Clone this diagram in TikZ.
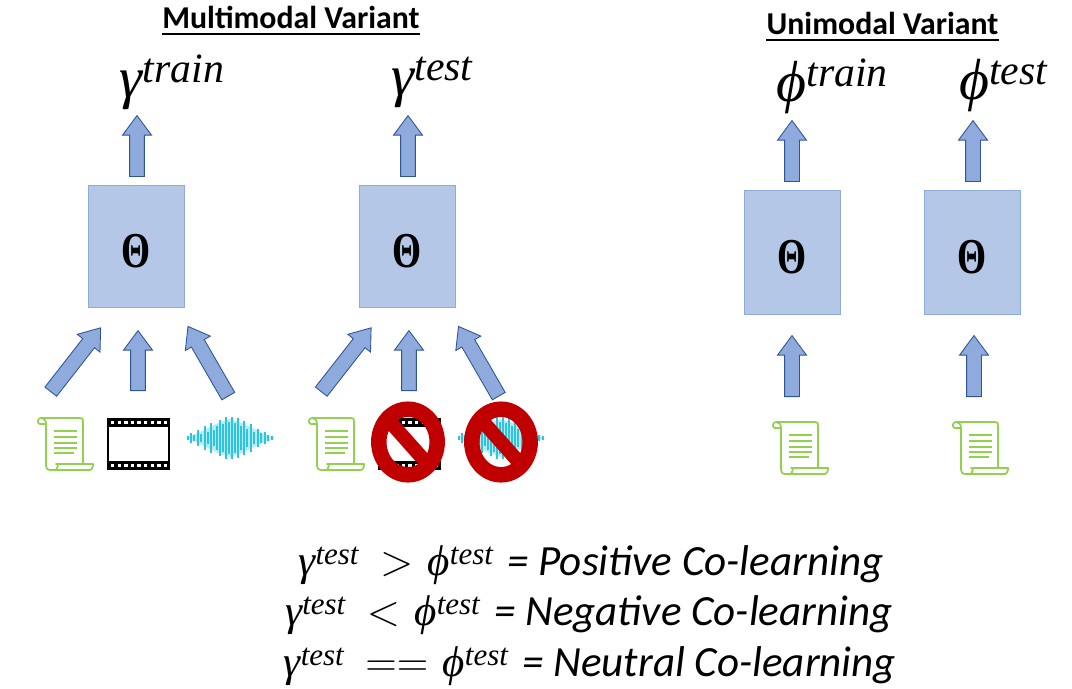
\documentclass[tikz,border=0pt]{standalone}
\usepackage{fontspec}
\setmainfont{Carlito}
\newfontfamily\symfont{Liberation Serif}
\usetikzlibrary{shapes.arrows}
\definecolor{arrowblue}{HTML}{8FAADC}
\definecolor{arrowedge}{HTML}{2F5597}
\definecolor{boxblue}{HTML}{B4C7E7}
\definecolor{scrollgreen}{HTML}{92D050}
\definecolor{wavecyan}{HTML}{2EC4DE}
\definecolor{nored}{HTML}{C00000}
\newcommand{\supsym}[2]{{\symfont\itshape #1\raisebox{0.26em}{\scalebox{0.72}{#2}}}}
\newcommand{\thetasym}{\raisebox{-12.4pt}[0pt][0pt]{\scalebox{0.76}[1.02]{\symfont\bfseries Θ}}}
\tikzset{
  blockarrow/.style={single arrow, draw=arrowedge, fill=arrowblue, line width=0.5pt, inner sep=3.98pt, minimum width=0.56cm, single arrow head extend=0.14cm, single arrow tip angle=73, single arrow head indent=0pt, anchor=tail},
  modelbox/.style={draw=arrowblue, fill=boxblue, line width=0.4pt, minimum width=1.92cm, font=\fontsize{28}{28}\selectfont},
  titletext/.style={font=\bfseries\fontsize{18.1}{20}\selectfont, inner sep=0pt},
  outlabel/.style={font=\fontsize{33}{36}\selectfont, inner sep=0pt},
  rulelabel/.style={font=\itshape\fontsize{24.5}{26}\selectfont, inner sep=0pt},
  scrollicon/.pic={
    \draw[scrollgreen, line width=1pt, line join=round] (9,6) -- (3,6) .. controls (0,6) and (0,0) .. (4,0) -- (43,0) .. controls (46,0) and (46,1) .. (46,4) -- (46,46) -- (19,46) .. controls (22,46) and (21,48) .. (19,52) -- (53,52) .. controls (56,52) and (56,46) .. (56,46) -- (46,46);
    \draw[scrollgreen, line width=1pt, line join=round] (4,0) .. controls (7,0) and (9,2) .. (9,6) -- (9,48) .. controls (9,51) and (11,52) .. (13,52) -- (53,52);
    \foreach \ly/\lx in {13/40,19/40,25/40,30/40,35/37}
      \draw[scrollgreen, line width=1pt] (17,\ly) -- (\lx,\ly);
  },
  filmicon/.pic={
    \fill[black] (0,0) rectangle (63,52);
    \fill[white] (2,9) rectangle (61,43);
    \foreach \hx in {0,...,8} {
      \fill[white] (4+\hx*6.6,2.5) rectangle +(3.4,3.4);
      \fill[white] (4+\hx*6.6,46) rectangle +(3.4,3.4);
    }
  },
  waveicon/.pic={
    \fill[wavecyan!35] (-44,0) -- (-30,-6) -- (-12,-15) -- (0,-19) -- (12,-15) -- (30,-6) -- (44,0) -- (30,6) -- (12,15) -- (0,19) -- (-12,15) -- (-30,6) -- cycle;
    \foreach \wx/\wh in {-42/2,-39/5,-36/3,-32/8,-29/4,-25/12,-22/6,-19/15,-16/8,-13/12,-10/18,-7/14,-4/21,-1/16,2/21,5/15,8/20,11/12,14/17,17/9,21/14,24/6,28/9,31/5,35/6,38/3,42/2}
      \draw[wavecyan, line width=0.75pt] (\wx,-\wh) -- (\wx,\wh);
  },
  nosign/.pic={
    \draw[nored, line width=8.8pt] (0,0) ellipse [x radius=29.2, y radius=32.8];
    \draw[nored, line width=8pt] (-24,-27) -- (24,27);
  }
}
\begin{document}
\begin{tikzpicture}[x=0.02cm, y=-0.02cm]
\useasboundingbox (0,0) rectangle (1072,689);
\node (multititle) [titletext] at (291,17) {Multimodal Variant};
\node (unititle) [titletext] at (882.5,23) {Unimodal Variant};
\draw[line width=1.6pt] ([yshift=-3.1pt]multititle.south west) -- ([yshift=-3.1pt]multititle.south east);
\draw[line width=1.6pt] ([yshift=-3.1pt]unititle.south west) -- ([yshift=-3.1pt]unititle.south east);
\node (gtrain) [outlabel] at (172,82) {\supsym{γ}{train}};
\node (gtest) [outlabel] at (432,82) {\supsym{γ}{test}};
\node (ptrain) [outlabel] at (832,86) {\supsym{ϕ}{train}};
\node (ptest) [outlabel] at (1003,86) {\supsym{ϕ}{test}};
\node (boxa) [modelbox, minimum height=2.44cm] at (136.5,246) {\thetasym};
\node (boxb) [modelbox, minimum height=2.44cm] at (407,246) {\thetasym};
\node (boxc) [modelbox, minimum height=2.48cm] at (792,252) {\thetasym};
\node (boxd) [modelbox, minimum height=2.48cm] at (972,252) {\thetasym};
\node (outa) [blockarrow, minimum height=1.22cm, rotate=90] at (137,177) {};
\node (outb) [blockarrow, minimum height=1.22cm, rotate=90] at (408,177) {};
\node (outc) [blockarrow, minimum height=1.22cm, rotate=90] at (792,182) {};
\node (outd) [blockarrow, minimum height=1.22cm, rotate=90] at (973,182) {};
\node (ina) [blockarrow, minimum height=1.62cm, rotate=52] at (50.5,392) {};
\node (inb) [blockarrow, minimum height=1.20cm, rotate=90] at (138,391) {};
\node (inc) [blockarrow, minimum height=1.61cm, rotate=120] at (228.5,396.5) {};
\node (ind) [blockarrow, minimum height=1.62cm, rotate=52] at (321,392) {};
\node (ine) [blockarrow, minimum height=1.20cm, rotate=90] at (409,391) {};
\node (inf) [blockarrow, minimum height=1.61cm, rotate=120] at (499,396.5) {};
\node (ing) [blockarrow, minimum height=1.22cm, rotate=90] at (792,397) {};
\node (inh) [blockarrow, minimum height=1.22cm, rotate=90] at (974,397) {};
\pic at (37,418) {scrollicon};
\pic at (107,418) {filmicon};
\pic at (230,438) {waveicon};
\pic at (308,418) {scrollicon};
\pic at (378,418) {filmicon};
\pic at (501,438) {waveicon};
\pic at (772,422) {scrollicon};
\pic at (952,422) {scrollicon};
\pic at (408,442) {nosign};
\pic at (501,442) {nosign};
\node (rulepos) [rulelabel] at (591,565) {\supsym{γ}{test}\,\,\,$>$\,\,\supsym{ϕ}{test}\,\,= Positive Co-learning};
\node (ruleneg) [rulelabel] at (589,615) {\supsym{γ}{test}\,\,\,$<$\,\,\supsym{ϕ}{test}\,\,= Negative Co-learning};
\node (ruleneu) [rulelabel] at (590,666) {\supsym{γ}{test}\,\,\,$==$\,\,\supsym{ϕ}{test}\,\,= Neutral Co-learning};
\end{tikzpicture}
\end{document}
